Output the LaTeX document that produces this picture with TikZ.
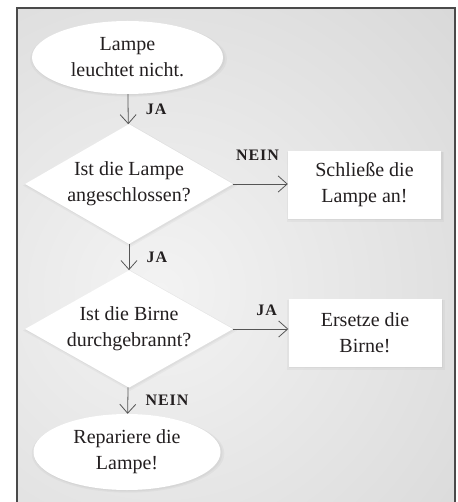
\documentclass[tikz,border=0pt]{standalone}
\usepackage{fontspec}
\setmainfont{Liberation Serif}
\newfontfamily\marke[LetterSpace=6]{Liberation Serif}
\usetikzlibrary{arrows.meta,shapes.geometric,shadows}
\definecolor{rahmen}{HTML}{4A4A4A}
\definecolor{grund}{HTML}{D8D8D8}
\definecolor{hell}{HTML}{F3F3F3}
\definecolor{schrift}{HTML}{231F20}
\definecolor{pfeilgrau}{HTML}{555555}
\tikzset{
  >={Straight Barb[length=9pt,width=16pt]},
  knoten/.style = {fill=white, text=schrift, align=center, inner sep=0pt,
                   font=\fontsize{20}{26}\selectfont,
                   drop shadow={opacity=.07, shadow xshift=1pt, shadow yshift=-1.5pt, shadow scale=1.03},
                   drop shadow={opacity=.08, shadow xshift=1pt, shadow yshift=-1pt, shadow scale=1.01}},
  oval/.style = {knoten, ellipse, minimum width=191pt, minimum height=73pt},
  raute/.style = {knoten, diamond, aspect=1.7, minimum width=208pt, minimum height=#1},
  raute/.default = 120pt,
  kasten/.style = {knoten, rectangle, minimum width=153pt, minimum height=68pt},
  pfeil/.style = {->, draw=pfeilgrau, line width=0.8pt},
  antwort/.style = {font=\marke\bfseries\fontsize{16}{18}\selectfont, text=schrift},
}
\begin{document}
\begin{tikzpicture}[x=1pt, y=-1pt]
\useasboundingbox (0,0) rectangle (457,502);
% Hintergrund
\begin{scope}
  \clip (17,8) rectangle (455,502);
  \fill[grund] (17,8) rectangle (455,502);
  \shade[inner color=hell, outer color=grund] (160,290) circle (420pt);
\end{scope}
\draw[rahmen, line width=1.5pt] (17,502) -- (17,8) -- (455,8) -- (455,502);

\node[oval] (start) at (127.5,57.5) {Lampe\\leuchtet nicht.};
\node[raute] (frage1) at (129,184) {Ist die Lampe\\angeschlossen?};
\node[kasten] (anschliessen) at (364.5,185) {Schließe die\\Lampe an!};
\node[raute=116pt] (frage2) at (129,329) {Ist die Birne\\durchgebrannt?};
\node[kasten] (ersetzen) at (365,333) {Ersetze die\\Birne!};
\node[oval, minimum width=187pt, minimum height=76pt] (ende) at (127,452)
  {Repariere die\\Lampe!};

\path[pfeil] (start) edge node[antwort, right=14pt] {JA} (frage1);
\path[pfeil] (frage1) edge node[antwort, above=20pt, xshift=-3pt] {NEIN} (frage1 -| anschliessen.west);
\path[pfeil] (frage1) edge node[antwort, right=14pt] {JA} (frage2);
\path[pfeil] (frage2) edge node[antwort, above=10pt, xshift=6pt] {JA} (frage2 -| ersetzen.west);
\path[pfeil] (frage2) edge node[antwort, right=14pt] {NEIN} (ende);
\end{tikzpicture}
\end{document}
